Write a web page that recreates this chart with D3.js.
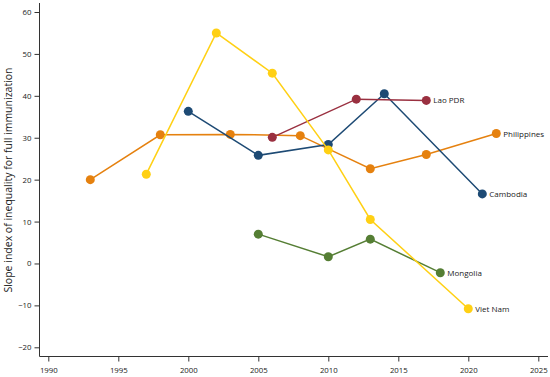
<html lang="en">
<head>
<meta charset="UTF-8" />
<title>Slope index of inequality</title>
<script src="https://cdn.jsdelivr.net/npm/d3@7"></script>
<style>
  body { margin: 0; background: #fff; }
  text { font-family: "Open Sans", "Liberation Sans", sans-serif; fill: #1a1a1a; }
</style>
</head>
<body>
<script>
// series data
const philippinesYears = [1993, 1998, 2003, 2008, 2013, 2017, 2022];
const philippinesVals  = [20.0, 30.7, 30.8, 30.5, 22.6, 26.0, 31.0];
const cambodiaYears = [2000, 2005, 2010, 2014, 2021];
const cambodiaVals  = [36.3, 25.8, 28.4, 40.5, 16.6];
const laoYears = [2006, 2012, 2017];
const laoVals  = [30.1, 39.2, 38.9];
const mongoliaYears = [2005, 2010, 2013, 2018];
const mongoliaVals  = [7.0, 1.6, 5.8, -2.2];
const vietnamYears = [1997, 2002, 2006, 2010, 2013, 2020];
const vietnamVals  = [21.3, 55.0, 45.4, 27.1, 10.5, -10.8];

const xTicks = [1990, 1995, 2000, 2005, 2010, 2015, 2020, 2025];
const yTicks = [-20, -10, 0, 10, 20, 30, 40, 50, 60];

const series = [
  { name: "Philippines", years: philippinesYears, vals: philippinesVals, color: "#E5810F" },
  { name: "Cambodia", years: cambodiaYears, vals: cambodiaVals, color: "#1D4A74" },
  { name: "Lao PDR", years: laoYears, vals: laoVals, color: "#9A3040" },
  { name: "Mongolia", years: mongoliaYears, vals: mongoliaVals, color: "#557E34" },
  { name: "Viet Nam", years: vietnamYears, vals: vietnamVals, color: "#FFD014" }
];

let width = 550, height = 377;
let svg = d3.select("body").append("svg")
  .attr("width", width).attr("height", height);

let x = d3.scaleLinear().domain([1990, 2025]).range([48.3, 538.3]);
let y = d3.scaleLinear().domain([-20, 60]).range([347.3, 12]);

let axisX = 39.5, axisY = 356.5;

// axes
let xa = svg.append("g").attr("transform", `translate(0,${axisY})`)
  .call(d3.axisBottom(x).tickValues(xTicks).tickFormat(d3.format("d")).tickSize(5).tickSizeOuter(0));
xa.select(".domain").attr("d", `M${axisX},0H548`);
let ya = svg.append("g").attr("transform", `translate(${axisX},0)`)
  .call(d3.axisLeft(y).tickValues(yTicks).tickFormat(d => d < 0 ? "\u2212" + Math.abs(d) : d).tickSize(5).tickSizeOuter(0));
ya.select(".domain").attr("d", `M0,3V${axisY}`);

svg.selectAll(".domain, .tick line").attr("stroke", "#333").attr("stroke-width", 1);
svg.selectAll(".tick text").style("font-size", "7.8px").attr("fill", "#1a1a1a");
xa.selectAll(".tick text").attr("dy", "1.1em");

svg.append("text")
  .attr("transform", "translate(12,180) rotate(-90)")
  .attr("text-anchor", "middle")
  .style("font-size", "10.5px")
  .text("Slope index of inequality for full immunization");

let line = d3.line().x(d => x(d[0])).y(d => y(d[1]));

series.forEach(s => {
  let pts = s.years.map((yr, i) => [yr, s.vals[i]]);
  let g = svg.append("g");
  g.append("path").datum(pts).attr("d", line)
    .attr("fill", "none").attr("stroke", s.color).attr("stroke-width", 1.5);
  g.selectAll("circle").data(pts).enter().append("circle")
    .attr("cx", d => x(d[0])).attr("cy", d => y(d[1])).attr("r", 4.5)
    .attr("fill", s.color);
  let last = pts[pts.length - 1];
  g.append("text")
    .attr("x", x(last[0]) + 7).attr("y", y(last[1]) + 3)
    .style("font-size", "8px")
    .text(s.name);
});
</script>
</body>
</html>
